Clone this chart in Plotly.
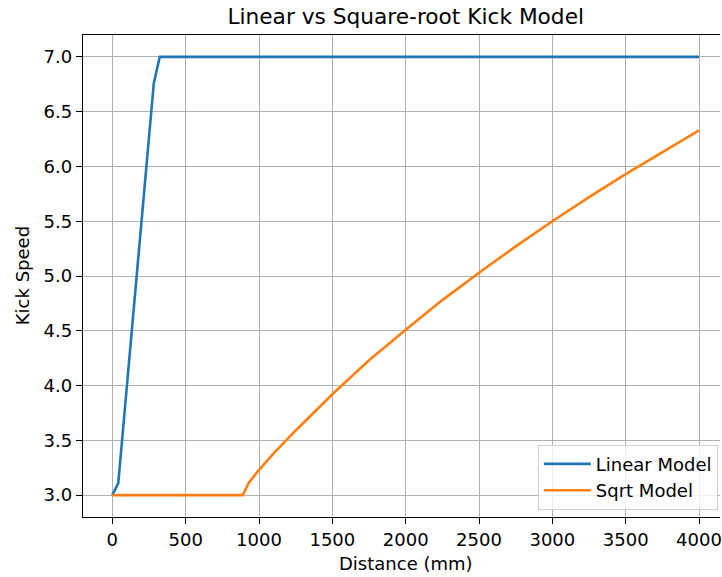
import plotly.graph_objects as go

# Data
linear_x = [0, 40.4, 282.8, 323.2, 4000]
linear_y = [3.0, 3.11, 6.76, 7.0, 7.0]

sqrt_x = [0, 888.9, 929.3, 1000, 1100, 1250, 1500, 1750, 2000, 2250, 2500,
          2750, 3000, 3250, 3500, 3750, 4000]
sqrt_y = [3.0, 3.0, 3.11, 3.23, 3.38, 3.59, 3.92, 4.23, 4.51, 4.78, 5.03,
          5.27, 5.50, 5.72, 5.93, 6.13, 6.33]

x_ticks = [0, 500, 1000, 1500, 2000, 2500, 3000, 3500, 4000]
y_ticks = [3.0, 3.5, 4.0, 4.5, 5.0, 5.5, 6.0, 6.5, 7.0]

FONT = "DejaVu Sans"
W, H = 722, 577
L, R, T, B = 83, 0, 35, 60
FS = 18
LW = 1.45

fig = go.Figure()
fig.add_trace(go.Scatter(x=linear_x, y=linear_y, mode="lines", name="Linear Model",
                         line=dict(color="#1f77b4", width=2.6)))
fig.add_trace(go.Scatter(x=sqrt_x, y=sqrt_y, mode="lines", name="Sqrt Model",
                         line=dict(color="#ff7f0e", width=2.6)))

axis_common = dict(
    showgrid=True, gridcolor="#b0b0b0", gridwidth=LW,
    showline=True, linecolor="black", linewidth=LW,
    ticks="outside", ticklen=6, tickwidth=LW, tickcolor="black",
    tickfont=dict(family=FONT, size=FS, color="black"),
    zeroline=False, ticklabeloverflow="allow",
)

fig.update_layout(
    width=W, height=H,
    margin=dict(l=L, r=R, t=T, b=B),
    plot_bgcolor="white", paper_bgcolor="white",
    font=dict(family=FONT, color="black"),
    xaxis=dict(range=[-200, 4143], tickvals=x_ticks,
               ticktext=[str(v) for v in x_ticks], mirror=True, **axis_common),
    yaxis=dict(range=[2.8, 7.2], tickvals=y_ticks,
               ticktext=[f"{v:.1f}" for v in y_ticks], mirror=False, **axis_common),
    showlegend=True,
    legend=dict(x=0.714, y=0.15, xanchor="left", yanchor="top",
                bgcolor="rgba(255,255,255,0.8)", bordercolor="#d0d0d0", borderwidth=1,
                font=dict(family=FONT, size=FS, color="black"),
                tracegroupgap=0, itemwidth=47),
    title=dict(text="Linear vs Square-root Kick Model", x=0.5066, xref="paper",
               xanchor="center", y=1 - 16 / H, yref="container", yanchor="middle",
               font=dict(family=FONT, size=21.7, color="black")),
    annotations=[
        dict(text="Distance (mm)", xref="paper", yref="paper", x=0.5066,
             y=-(563 - 517) / (H - T - B), xanchor="center", yanchor="middle",
             showarrow=False, font=dict(family=FONT, size=FS, color="black")),
        dict(text="Kick Speed", xref="paper", yref="paper",
             x=-(83 - 22) / (W - L - R), y=0.5, xanchor="center", yanchor="middle",
             textangle=-90, showarrow=False,
             font=dict(family=FONT, size=FS, color="black")),
    ],
)

fig.write_html("out.html")
